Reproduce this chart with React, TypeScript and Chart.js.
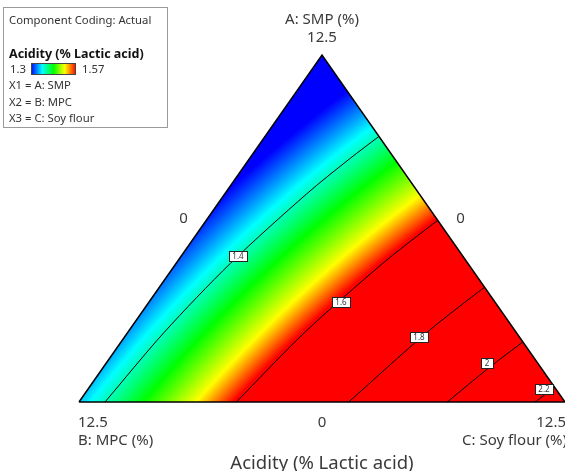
import { useEffect, useRef } from 'react';
import { Chart, registerables } from 'chart.js';

Chart.register(...registerables);

// ---- text ----
const axisTitles = ['A: SMP (%)', 'B: MPC (%)', 'C: Soy flour (%)'];
const axisMaxLabel = '12.5';
const axisMinLabel = '0';
const responseTitle = 'Acidity (% Lactic acid)';
const codingText = 'Component Coding: Actual';
const legendRangeLabels = ['1.3', '1.57'];
const legendRows = ['X1 = A: SMP', 'X2 = B: MPC', 'X3 = C: Soy flour'];

// ---- fitted mixture model (inverse transform, 1/y), pseudo-components A, B, C ----
const linearCoef = [0.803, 0.733, 0.44]; // A, B, C
const blendCoef = [-0.05, -0.02, -0.06]; // AB, AC, BC

// colour scale anchors (blue, cyan, green, yellow, red)
const colorStops = [1.31, 1.38, 1.455, 1.535, 1.595];
const palette = [
  [0, 0, 255],
  [0, 255, 255],
  [0, 255, 0],
  [255, 255, 0],
  [255, 0, 0],
];

// ---- contour lines (A, C fractions) ----
const contourLevels = ['1.4', '1.6', '1.8', '2', '2.2'];
const contour14A = [0, 0.2, 0.4, 0.6, 0.7, 0.7655];
const contour14C = [0.0535, 0.0748, 0.1119, 0.1686, 0.2061, 0.2345];
const contour16A = [0, 0.2, 0.4, 0.5, 0.5234];
const contour16C = [0.3238, 0.364, 0.4254, 0.466, 0.4766];
const contour18A = [0, 0.2, 0.3, 0.3307];
const contour18C = [0.555, 0.6154, 0.6556, 0.6693];
const contour20A = [0, 0.1, 0.1732];
const contour20C = [0.7576, 0.7948, 0.8268];
const contour22A = [0, 0.0424];
const contour22C = [0.9385, 0.9576];
// label positions (A, C)
const labelA = [0.4207, 0.2882, 0.1873, 0.1124, 0.0375];
const labelC = [0.1168, 0.395, 0.6059, 0.7833, 0.938];

const contourA = [contour14A, contour16A, contour18A, contour20A, contour22A];
const contourC = [contour14C, contour16C, contour18C, contour20C, contour22C];

const W = 565;
const H = 471;
const FONT = '"Noto Sans", "Open Sans", sans-serif';

function toXY(a: number, c: number) {
  return { x: c + a / 2, y: a };
}

function response(a: number, b: number, c: number) {
  const g =
    linearCoef[0] * a + linearCoef[1] * b + linearCoef[2] * c +
    blendCoef[0] * a * b + blendCoef[1] * a * c + blendCoef[2] * b * c;
  return 1 / g;
}

function colorOf(v: number): number[] {
  if (v <= colorStops[0]) return palette[0];
  if (v >= colorStops[4]) return palette[4];
  for (let i = 0; i < 4; i++) {
    if (v <= colorStops[i + 1]) {
      const t = (v - colorStops[i]) / (colorStops[i + 1] - colorStops[i]);
      const p = palette[i];
      const q = palette[i + 1];
      return [p[0] + (q[0] - p[0]) * t, p[1] + (q[1] - p[1]) * t, p[2] + (q[2] - p[2]) * t];
    }
  }
  return palette[4];
}

const fillPlugin = {
  id: 'ternaryFill',
  beforeDatasetsDraw(chart: any) {
    const { ctx, chartArea, scales } = chart;
    const x0 = Math.floor(chartArea.left);
    const y0 = Math.floor(chartArea.top);
    const w = Math.ceil(chartArea.right) - x0;
    const h = Math.ceil(chartArea.bottom) - y0 + 1;
    const img = ctx.getImageData(x0, y0, w, h);
    const d = img.data;
    for (let j = 0; j < h; j++) {
      const a = scales.y.getValueForPixel(y0 + j + 0.5);
      for (let i = 0; i < w; i++) {
        const xv = scales.x.getValueForPixel(x0 + i + 0.5);
        const c = xv - a / 2;
        const b = 1 - a - c;
        if (a < 0 || b < 0 || c < 0) continue;
        const col = colorOf(response(a, b, c));
        const k = (j * w + i) * 4;
        d[k] = col[0];
        d[k + 1] = col[1];
        d[k + 2] = col[2];
        d[k + 3] = 255;
      }
    }
    ctx.putImageData(img, x0, y0);
  },
};

const labelPlugin = {
  id: 'contourLabels',
  afterDatasetsDraw(chart: any) {
    const { ctx, scales } = chart;
    ctx.save();
    ctx.font = `8px ${FONT}`;
    ctx.textAlign = 'center';
    ctx.textBaseline = 'middle';
    for (let i = 0; i < contourLevels.length; i++) {
      const p = toXY(labelA[i], labelC[i]);
      const px = Math.round(scales.x.getPixelForValue(p.x));
      const py = Math.round(scales.y.getPixelForValue(p.y));
      const tw = ctx.measureText(contourLevels[i]).width;
      const bw = Math.round(tw + 8);
      const bh = 11;
      const lx = Math.round(px - bw / 2);
      const ty = Math.round(py - bh / 2);
      ctx.fillStyle = '#fff';
      ctx.fillRect(lx, ty, bw, bh);
      ctx.strokeStyle = '#222';
      ctx.lineWidth = 1;
      ctx.strokeRect(lx + 0.5, ty + 0.5, bw - 1, bh - 1);
      ctx.fillStyle = '#333';
      ctx.fillText(contourLevels[i], px, py + 0.5);
    }
    ctx.restore();
  },
};

const textPlugin = {
  id: 'ternaryText',
  afterDraw(chart: any) {
    const { ctx, scales } = chart;
    const top = { x: scales.x.getPixelForValue(0.5), y: scales.y.getPixelForValue(1) };
    const bl = { x: scales.x.getPixelForValue(0), y: scales.y.getPixelForValue(0) };
    const br = { x: scales.x.getPixelForValue(1), y: scales.y.getPixelForValue(0) };
    ctx.save();
    ctx.fillStyle = '#3a3a3a';
    ctx.textBaseline = 'middle';
    ctx.font = `15px ${FONT}`;
    ctx.textAlign = 'center';
    ctx.fillText(axisTitles[0], top.x, top.y - 35);
    ctx.fillText(axisMaxLabel, top.x, top.y - 17);
    // edge zeros
    ctx.fillText(axisMinLabel, (top.x + bl.x) / 2 - 17, (top.y + bl.y) / 2 - 10);
    ctx.fillText(axisMinLabel, (top.x + br.x) / 2 + 17, (top.y + br.y) / 2 - 10);
    ctx.fillText(axisMinLabel, top.x, bl.y + 21);
    ctx.textAlign = 'left';
    ctx.fillText(axisMaxLabel, bl.x - 1, bl.y + 21);
    ctx.fillText(axisTitles[1], bl.x - 1, bl.y + 39);
    ctx.textAlign = 'right';
    ctx.fillText(axisMaxLabel, br.x + 1, br.y + 21);
    ctx.fillText(axisTitles[2], br.x + 2, br.y + 39);
    ctx.textAlign = 'center';
    ctx.font = `18.5px ${FONT}`;
    ctx.fillText(responseTitle, top.x, bl.y + 62);

    // legend box
    ctx.strokeStyle = '#9a9a9a';
    ctx.lineWidth = 1;
    ctx.strokeRect(3.5, 7.5, 164, 120);
    ctx.textAlign = 'left';
    ctx.fillStyle = '#333';
    ctx.font = `11.3px ${FONT}`;
    ctx.fillText(codingText, 9, 21);
    ctx.fillStyle = '#111';
    ctx.font = `bold 12.5px ${FONT}`;
    ctx.fillText(responseTitle, 9, 54);
    ctx.font = `11.3px ${FONT}`;
    ctx.fillStyle = '#333';
    ctx.fillText(legendRangeLabels[0], 10, 70);
    const gx = 31, gy = 63, gw = 45, gh = 12;
    const grad = ctx.createLinearGradient(gx, 0, gx + gw, 0);
    grad.addColorStop(0, '#0000ff');
    grad.addColorStop(0.25, '#00ffff');
    grad.addColorStop(0.5, '#00ff00');
    grad.addColorStop(0.75, '#ffff00');
    grad.addColorStop(1, '#ff0000');
    ctx.fillStyle = grad;
    ctx.fillRect(gx, gy, gw, gh);
    ctx.strokeStyle = '#444';
    ctx.strokeRect(gx + 0.5, gy + 0.5, gw - 1, gh - 1);
    ctx.fillStyle = '#333';
    ctx.fillText(legendRangeLabels[1], gx + gw + 6, 70);
    legendRows.forEach((t, i) => ctx.fillText(t, 9, 86 + i * 16.5));
    ctx.restore();
  },
};

export default function App() {
  const ref = useRef<HTMLCanvasElement>(null);
  useEffect(() => {
    if (!ref.current) return;
    const lineDs = contourA.map((as, k) => ({
      label: contourLevels[k],
      data: as.map((a, i) => toXY(a, contourC[k][i])),
      showLine: true,
      borderColor: '#000',
      borderWidth: 1,
      pointRadius: 0,
      tension: 0.3,
      clip: false as any,
    }));
    const outline = {
      label: 'outline',
      data: [toXY(0, 0), toXY(1, 0), toXY(0, 1), toXY(0, 0)],
      showLine: true,
      borderColor: '#000',
      borderWidth: 1.5,
      pointRadius: 0,
      tension: 0,
      clip: false as any,
    };
    const chart = new Chart(ref.current, {
      type: 'scatter',
      data: { datasets: [outline, ...lineDs] as any },
      options: {
        responsive: false,
        animation: false,
        devicePixelRatio: 1,
        events: [],
        layout: { padding: { left: 79, right: 0, top: 55, bottom: 69 } },
        scales: {
          x: { type: 'linear', min: 0, max: 1, display: false },
          y: { type: 'linear', min: 0, max: 1, display: false },
        },
        plugins: {
          legend: { display: false },
          tooltip: { enabled: false },
          title: { display: false },
        },
      },
      plugins: [fillPlugin, labelPlugin, textPlugin],
    });
    return () => chart.destroy();
  }, []);
  return (
    <div style={{ position: 'absolute', left: 0, top: 0, width: W, height: H, background: '#fff' }}>
      <canvas ref={ref} width={W} height={H} style={{ width: W, height: H, display: 'block' }} />
    </div>
  );
}
